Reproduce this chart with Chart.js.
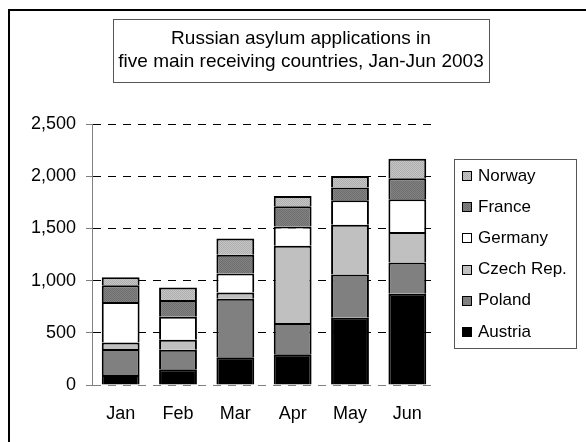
<!DOCTYPE html>
<html>
<head>
<meta charset="utf-8">
<script src="https://cdn.jsdelivr.net/npm/chart.js@4/dist/chart.umd.min.js"></script>
<style>
  html, body { margin: 0; padding: 0; background: #fff; }
  #wrap { width: 586px; height: 442px; position: relative; }
</style>
</head>
<body>
<div id="wrap"><canvas id="c" width="586" height="442"></canvas></div>
<script>
const months = ["Jan", "Feb", "Mar", "Apr", "May", "Jun"];
const austria = [96, 151, 266, 295, 644, 875];
const poland  = [250, 186, 561, 298, 414, 298];
const czech   = [61, 96, 58, 740, 477, 292];
const germany = [388, 221, 182, 186, 234, 314];
const france  = [160, 160, 180, 193, 122, 202];
const norway  = [77, 119, 157, 99, 112, 185];
const yTicks  = [0, 500, 1000, 1500, 2000, 2500];
const titleLines = ["Russian asylum applications in", "five main receiving countries, Jan-Jun 2003"];

const FONT = "'Liberation Sans', Arial, sans-serif";

function dotPattern(base, dot) {
  const p = document.createElement('canvas');
  p.width = 2; p.height = 2;
  const g = p.getContext('2d');
  g.fillStyle = base; g.fillRect(0, 0, 2, 2);
  g.fillStyle = dot;
  g.fillRect(0, 0, 1, 1);
  g.fillRect(1, 1, 1, 1);
  return g.createPattern(p, 'repeat');
}
const francePat = dotPattern('#828282', '#6e6e6e');
const norwayPat = dotPattern('#c6c6c6', '#aeaeae');

const series = [
  { label: "Austria", data: austria, backgroundColor: "#000000" },
  { label: "Poland", data: poland, backgroundColor: "#808080" },
  { label: "Czech Rep.", data: czech, backgroundColor: "#c0c0c0" },
  { label: "Germany", data: germany, backgroundColor: "#ffffff" },
  { label: "France", data: france, backgroundColor: francePat },
  { label: "Norway", data: norway, backgroundColor: norwayPat }
];

const decor = {
  id: 'decor',
  beforeDraw(chart) {
    const c = chart.ctx;
    c.save();
    c.fillStyle = '#fff';
    c.fillRect(0, 0, chart.width, chart.height);
    // outer frame
    c.strokeStyle = '#000';
    c.lineWidth = 2;
    c.strokeRect(9, 10, 700, 600);
    // title box
    c.lineWidth = 1;
    c.strokeStyle = '#555';
    c.strokeRect(113.5, 19.5, 376, 63);
    c.fillStyle = '#000';
    c.font = "19px " + FONT;
    c.textAlign = 'center';
    c.textBaseline = 'middle';
    c.fillText(titleLines[0], 301, 39);
    c.fillText(titleLines[1], 301, 62);
    // legend box
    c.strokeStyle = '#555';
    c.strokeRect(454.5, 159.5, 122, 189);
    const ds = chart.data.datasets.slice().reverse();
    c.textAlign = 'left';
    c.font = "17px " + FONT;
    ds.forEach((d, i) => {
      const y = 176 + i * 31.2;
      c.fillStyle = d.backgroundColor;
      c.fillRect(462, Math.round(y - 5), 10, 10);
      c.strokeStyle = '#000';
      c.lineWidth = 1;
      c.strokeRect(462.5, Math.round(y - 5) + 0.5, 9, 9);
      c.fillStyle = '#000';
      c.fillText(d.label, 478, y);
    });
    c.restore();
  }
};

new Chart(document.getElementById('c'), {
  type: 'bar',
  data: {
    labels: months,
    datasets: series.map(s => Object.assign({}, s, {
      borderColor: '#000',
      borderWidth: 2,
      categoryPercentage: 1.0,
      barPercentage: 0.66
    }))
  },
  options: {
    responsive: false,
    animation: false,
    events: [],
    layout: { padding: { left: 0, right: 150, top: 124, bottom: 17 } },
    plugins: { legend: { display: false }, title: { display: false }, tooltip: { enabled: false } },
    scales: {
      x: {
        stacked: true,
        grid: { display: false, drawTicks: false },
        border: { display: false },
        ticks: { color: '#000', font: { family: FONT, size: 18 }, padding: 18 },
        afterFit(s) { s.height = 40; }
      },
      y: {
        stacked: true,
        min: 0, max: 2500,
        afterBuildTicks(s) { s.ticks = yTicks.map(v => ({ value: v })); },
        ticks: { color: '#000', font: { family: FONT, size: 18 }, padding: 10,
                 callback: v => v.toLocaleString('en-US') },
        grid: {
          color: c => (c.tick && c.tick.value === 0) ? '#808080' : '#000',
          tickColor: '#808080', tickLength: 6, lineWidth: 1, drawTicks: true
        },
        border: { display: true, color: '#808080', width: 1, dash: [8, 7] },
        afterFit(s) { s.width = 92; }
      }
    }
  },
  plugins: [decor]
});
</script>
</body>
</html>
